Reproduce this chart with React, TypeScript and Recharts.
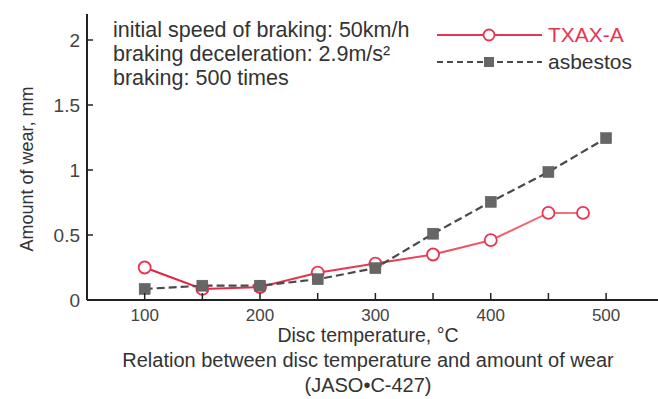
import React from 'react';
import { LineChart, Line, XAxis, YAxis, Customized } from 'recharts';

const txaxTemps = [100, 150, 200, 250, 300, 350, 400, 450, 480];
const txaxWear = [0.25, 0.085, 0.1, 0.21, 0.28, 0.35, 0.46, 0.67, 0.67];
const asbTemps = [100, 150, 200, 250, 300, 350, 400, 450, 500];
const asbWear = [0.085, 0.11, 0.11, 0.16, 0.245, 0.51, 0.755, 0.985, 1.245];
const xTicks = [100, 150, 200, 250, 300, 350, 400, 450, 500];
const xLabelTicks = [100, 200, 300, 400, 500];
const yTicks = [0, 0.5, 1, 1.5, 2];
const notes = [
  'initial speed of braking: 50km/h',
  'braking deceleration: 2.9m/s²',
  'braking: 500 times',
];
const captions = [
  'Disc temperature, °C',
  'Relation between disc temperature and amount of wear',
  '(JASO•C-427)',
];
const yTitle = 'Amount of wear, mm';
const seriesNames = ['TXAX-A', 'asbestos'];

const txaxData = txaxTemps.map((t, i) => ({ t, v: txaxWear[i] }));
const asbData = asbTemps.map((t, i) => ({ t, v: asbWear[i] }));

const FONT = '"Liberation Sans", Arial, sans-serif';
const TEXT = '#333';
const AXIS = '#222';
const RED = '#e83552';
const GRAY = '#4a4a4a';
const SQ = '#666';

const XTick = (props: any) => {
  const { x, y, payload } = props;
  const show = xLabelTicks.includes(payload.value);
  return (
    <g>
      <line x1={x} x2={x} y1={y - 8} y2={y - 15} stroke={AXIS} strokeWidth={1.5} />
      {show && (
        <text x={x} y={y + 13} textAnchor="middle" fill="#444" fontSize={17} fontFamily={FONT}>
          {payload.value}
        </text>
      )}
    </g>
  );
};

const YTick = (props: any) => {
  const { x, y, payload } = props;
  return (
    <g>
      <line x1={x + 7} x2={x + 13} y1={y} y2={y} stroke={AXIS} strokeWidth={1.5} />
      <text x={x} y={y + 7} textAnchor="end" fill="#444" fontSize={19} fontFamily={FONT}>
        {String(payload.value)}
      </text>
    </g>
  );
};

const SquareDot = (props: any) => {
  const { cx, cy } = props;
  if (cx == null || cy == null) return null;
  return <rect x={cx - 5.5} y={cy - 5.5} width={11} height={11} fill={SQ} stroke="#555" strokeWidth={0.5} />;
};

const Texts = () => (
  <g fontFamily={FONT} fill={TEXT}>
    <defs>
      <linearGradient id="redGrad" x1="0" y1="0" x2="1" y2="0">
        <stop offset="0%" stopColor="#e2213f" />
        <stop offset="55%" stopColor="#ea3a55" />
        <stop offset="100%" stopColor="#f27a78" />
      </linearGradient>
    </defs>
    {notes.map((n, i) => (
      <text key={i} x={113} y={37 + i * 24} fontSize={21.5}>
        {n}
      </text>
    ))}
    <text x={368} y={342} fontSize={19.5} textAnchor="middle">{captions[0]}</text>
    <text x={368} y={367} fontSize={20} textAnchor="middle">{captions[1]}</text>
    <text x={368} y={392} fontSize={20} textAnchor="middle">{captions[2]}</text>
    <text
      x={0}
      y={0}
      fontSize={18}
      textAnchor="middle"
      transform="translate(33,169) rotate(-90)"
    >
      {yTitle}
    </text>
    <g transform="translate(437,23)">
      <line x1={0} x2={105} y1={12} y2={12} stroke={RED} strokeWidth={2} />
      <circle cx={52} cy={12} r={5.5} fill="#fff" stroke={RED} strokeWidth={1.8} />
      <text x={111} y={19} fontSize={21} fill={RED}>{seriesNames[0]}</text>
      <line x1={0} x2={105} y1={39} y2={39} stroke={GRAY} strokeWidth={2} strokeDasharray="6 4" />
      <rect x={47} y={34} width={10} height={10} fill={SQ} />
      <text x={111} y={46} fontSize={21} fill={TEXT}>{seriesNames[1]}</text>
    </g>
  </g>
);

export default function App() {
  return (
    <div style={{ position: 'absolute', left: 0, top: 0, background: '#fff' }}>
      <LineChart
        width={658}
        height={399}
        margin={{ top: 14, right: 0, bottom: 0, left: 0 }}
      >
        <XAxis
          dataKey="t"
          type="number"
          domain={[50, 545]}
          ticks={xTicks}
          allowDataOverflow
          tickSize={0}
          tickMargin={8}
          tick={<XTick />}
          axisLine={{ stroke: AXIS, strokeWidth: 2 }}
          height={99}
        />
        <YAxis
          dataKey="v"
          type="number"
          domain={[0, 2.2]}
          ticks={yTicks}
          allowDataOverflow
          tickSize={0}
          tickMargin={7}
          tick={<YTick />}
          axisLine={{ stroke: AXIS, strokeWidth: 2 }}
          width={87}
        />
        <Customized component={Texts} />
        <Line
          data={txaxData}
          dataKey="v"
          name={seriesNames[0]}
          stroke="url(#redGrad)"
          strokeWidth={2}
          dot={{ r: 6, fill: '#fff', stroke: RED, strokeWidth: 1.8 }}
          isAnimationActive={false}
        />
        <Line
          data={asbData}
          dataKey="v"
          name={seriesNames[1]}
          stroke={GRAY}
          strokeWidth={2.2}
          strokeDasharray="8 4"
          dot={<SquareDot />}
          isAnimationActive={false}
        />
      </LineChart>
    </div>
  );
}
